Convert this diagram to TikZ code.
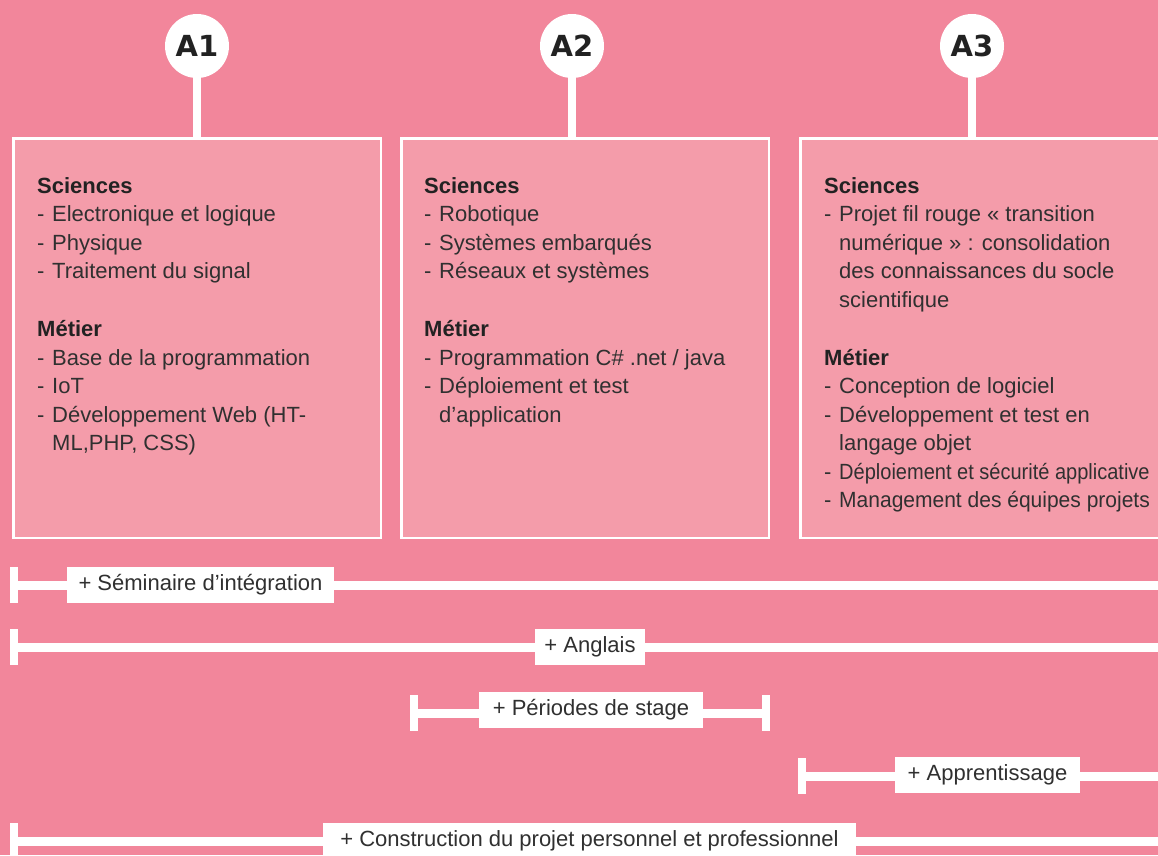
\documentclass[tikz,border=0pt]{standalone}
\usepackage{fontspec}
\setmainfont{Liberation Sans}
\newfontfamily\badgefont{DejaVu Sans}
\definecolor{bgpink}{HTML}{F2869B}
\definecolor{boxpink}{HTML}{F49CAA}
\definecolor{txtdark}{HTML}{222222}
\definecolor{txtbody}{HTML}{303030}
\newcommand\dsh{\makebox[15pt][l]{-}}
\newcommand\ind{\hspace*{15pt}}
\newcommand\hd[1]{{\color{txtdark}\textbf{#1}}}
\begin{document}
\begin{tikzpicture}[x=1pt,y=-1pt,
  yearbox/.style={draw=white, line width=2.5pt, fill=boxpink, rectangle, inner sep=0, anchor=north west},
  badge/.style={circle, fill=white, minimum size=64pt, inner sep=0, font=\badgefont\fontsize{29}{29}\selectfont\bfseries, text=txtdark},
  stem/.style={draw=white, line width=8pt},
  txt/.style={anchor=north west, inner sep=0, align=left, text=txtbody, font=\fontsize{22}{28.5}\selectfont},
  bar/.style={draw=white, line width=9pt},
  capst/.style={fill=white, rectangle, minimum width=8pt, minimum height=36pt, inner sep=0},
  lab/.style={fill=white, rectangle, minimum height=36pt, inner xsep=0pt, inner ysep=0, text=txtbody, font=\fontsize{22}{22}\selectfont}
]
\useasboundingbox (0,0) rectangle (1158,855);
\clip (0,0) rectangle (1158,855);
\fill[bgpink] (0,0) rectangle (1158,855);

% year boxes
\node[yearbox, minimum width=367.5pt, minimum height=399.5pt] (b1) at (12.25,137.25) {};
\node[yearbox, minimum width=367.5pt, minimum height=399.5pt] (b2) at (400.25,137.25) {};
\node[yearbox, minimum width=380pt, minimum height=399.5pt] (b3) at (799.25,137.25) {};

% badges
\node[badge] (a1) at (197,46) {A1};
\node[badge] (a2) at (572,46) {A2};
\node[badge] (a3) at (972,46) {A3};
\draw[stem] (a1.south) -- (a1.south |- b1.north);
\draw[stem] (a2.south) -- (a2.south |- b2.north);
\draw[stem] (a3.south) -- (a3.south |- b3.north);

% box texts
\node[txt] (t1) at (37,173) {\strut\hd{Sciences}\\
\dsh Electronique et logique\\
\dsh Physique\\
\dsh Traitement du signal\\[29.5pt]
\hd{Métier}\\
\dsh Base de la programmation\\
\dsh IoT\\
\dsh Développement Web (HT-\\
\ind ML,PHP, CSS)};

\node[txt] (t2) at (424,173) {\strut\hd{Sciences}\\
\dsh Robotique\\
\dsh Systèmes embarqués\\
\dsh Réseaux et systèmes\\[29.5pt]
\hd{Métier}\\
\dsh Programmation C\# .net / java\\
\dsh Déploiement et test\\
\ind d’application};

\node[txt] (t3) at (824,173) {\strut\hd{Sciences}\\
\dsh Projet fil rouge « transition\\
\ind numérique » : consolidation\\
\ind des connaissances du socle\\
\ind scientifique\\[29.5pt]
\hd{Métier}\\
\dsh Conception de logiciel\\
\dsh Développement et test en\\
\ind langage objet\\
\dsh\scalebox{0.91}[1]{Déploiement et sécurité applicative}\\
\dsh\scalebox{0.955}[1]{Management des équipes projets}};

% row 1
\node[capst] (c1) at (14,585) {};
\coordinate (e1) at (1170,585);
\draw[bar] (c1.center) -- (e1);
\node[lab, minimum width=267pt] (l1) at (200.5,585) {+ Séminaire d’intégration};

% row 2
\node[capst] (c2) at (14,647) {};
\coordinate (e2) at (1170,647);
\draw[bar] (c2.center) -- (e2);
\node[lab, minimum width=110pt] (l2) at (590,647) {+ Anglais};

% row 3
\node[capst] (c3a) at (414,713) {};
\node[capst] (c3b) at (766,713) {};
\draw[bar] (c3a.center) -- (c3b.center);
\node[lab, minimum width=224pt] (l3) at (591,710) {+ Périodes de stage};

% row 4
\node[capst] (c4) at (801.5,776) {};
\coordinate (e4) at (1170,776);
\draw[bar] (c4.center) -- (e4);
\node[lab, minimum width=185pt] (l4) at (987.5,775) {+ Apprentissage};

% row 5
\node[capst] (c5) at (14,841) {};
\coordinate (e5) at (1170,841);
\draw[bar] (c5.center) -- (e5);
\node[lab, minimum width=533pt] (l5) at (589.5,841) {+ Construction du projet personnel et professionnel};
\end{tikzpicture}
\end{document}
